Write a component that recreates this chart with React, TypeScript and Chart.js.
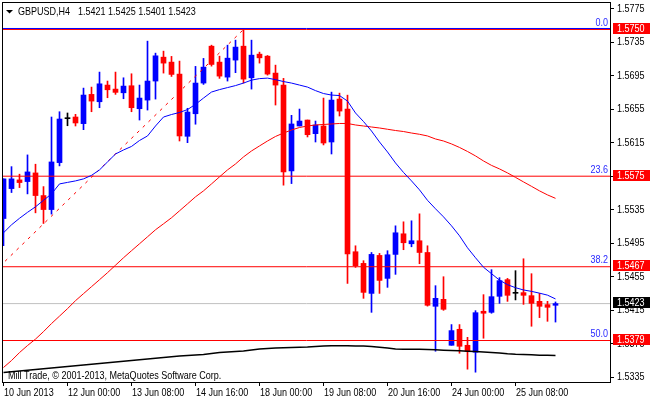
import React, { useEffect, useRef } from "react";
import { Chart, registerables } from "chart.js";

Chart.register(...registerables);

// ---------- data ----------
const opens = [1.55245,1.55602,1.55706,1.55686,1.55789,1.55519,1.55352,1.55912,1.56436,1.56456,
1.56377,1.56726,1.56638,1.56837,1.56789,1.56745,1.56829,1.56555,1.56658,1.56885,
1.5717,1.57111,1.56968,1.56226,1.56495,1.56861,1.57301,1.57111,1.56932,1.57135,
1.57301,1.56924,1.57206,1.57182,1.5698,1.56837,1.55813,1.56349,1.5642,1.56257,
1.56349,1.56158,1.5667,1.56551,1.54849,1.5471,1.54352,1.54805,1.54531,1.54817,
1.55063,1.54944,1.5498,1.5484,1.54198,1.54281,1.53733,1.53924,1.53733,1.5365,
1.54139,1.54126,1.54317,1.54516,1.54353,1.54361,1.54325,1.54257,1.54218,1.5421];

const highs = [1.55718,1.55864,1.55774,1.56004,1.55893,1.55626,1.56456,1.56519,1.56504,1.56488,
1.56801,1.56813,1.56992,1.56885,1.56992,1.56924,1.56972,1.56837,1.57361,1.57218,
1.57242,1.57179,1.57123,1.5656,1.5706,1.57155,1.57313,1.57182,1.57313,1.57373,
1.575,1.57373,1.5723,1.5719,1.57075,1.56917,1.56476,1.56551,1.5642,1.56408,
1.56682,1.56753,1.56741,1.56717,1.5492,1.54742,1.5484,1.54829,1.54861,1.55158,
1.55206,1.55218,1.55301,1.5492,1.54444,1.54551,1.5398,1.5398,1.53828,1.54146,
1.54337,1.54635,1.5454,1.54531,1.54623,1.54765,1.54587,1.54352,1.54257,1.5425];

const lows = [1.5492,1.55555,1.55614,1.55539,1.55313,1.55186,1.55298,1.55873,1.56352,1.56349,
1.56305,1.56519,1.56567,1.56686,1.56726,1.56674,1.56519,1.5642,1.56539,1.5667,
1.5698,1.5694,1.5617,1.5615,1.5637,1.56845,1.57063,1.56917,1.56885,1.56985,
1.56861,1.56789,1.57099,1.56956,1.56599,1.55643,1.55662,1.56349,1.56218,1.56158,
1.56123,1.56015,1.56468,1.54471,1.54662,1.54293,1.54126,1.54352,1.54424,1.54579,
1.54873,1.54908,1.54706,1.542,1.53662,1.5415,1.53733,1.53638,1.53448,1.53412,
1.53817,1.54115,1.54233,1.54257,1.54274,1.54221,1.5396,1.54063,1.54019,1.5401];

const closes = [1.55718,1.55718,1.55674,1.55801,1.55519,1.55352,1.5592,1.56432,1.56436,1.56385,
1.56718,1.56646,1.56852,1.56781,1.5675,1.56825,1.56567,1.56682,1.56885,1.57186,
1.57099,1.56964,1.5623,1.56515,1.56861,1.57051,1.57083,1.56944,1.57158,1.5729,
1.56908,1.57194,1.57162,1.56968,1.56837,1.55801,1.56373,1.56408,1.56245,1.56361,
1.56146,1.56658,1.56527,1.54824,1.54683,1.54364,1.54817,1.54507,1.54813,1.55075,
1.54956,1.5498,1.5484,1.5421,1.54293,1.54162,1.53908,1.53721,1.53662,1.54122,
1.54115,1.54313,1.54504,1.54329,1.54353,1.54329,1.54233,1.54198,1.54186,1.5423];

const maFast = [1.55075,1.5517,1.55248,1.55319,1.55385,1.55462,1.55539,1.55658,1.55676,1.55694,
1.55718,1.5576,1.55825,1.5592,1.56015,1.56063,1.56105,1.56176,1.5623,1.56349,
1.56456,1.56486,1.5651,1.56545,1.56607,1.56682,1.56754,1.56783,1.56807,1.56831,
1.56861,1.56896,1.56914,1.5692,1.56902,1.56879,1.56861,1.56837,1.56813,1.56771,
1.56736,1.56718,1.56712,1.56646,1.56504,1.56402,1.56289,1.56158,1.56039,1.55908,
1.55795,1.55694,1.55587,1.55462,1.55361,1.55265,1.55158,1.55039,1.54896,1.54777,
1.54664,1.54587,1.5451,1.54456,1.5442,1.54393,1.54376,1.54355,1.54331,1.54286];

const maMid = [1.53468,1.53551,1.53646,1.5373,1.53807,1.53896,1.53992,1.54081,1.5417,1.54265,
1.54349,1.54432,1.54515,1.54599,1.54688,1.54777,1.54861,1.54944,1.55027,1.55111,
1.55182,1.55254,1.55337,1.5542,1.55504,1.55575,1.55658,1.55742,1.55825,1.55896,
1.5598,1.56051,1.56111,1.5617,1.56224,1.56265,1.56301,1.56331,1.56349,1.56361,
1.56367,1.56373,1.56379,1.56379,1.56361,1.56349,1.56337,1.56325,1.5631,1.56295,
1.56283,1.56265,1.5625,1.5623,1.56194,1.5617,1.56135,1.56093,1.56045,1.55992,
1.55932,1.55879,1.55837,1.55789,1.55736,1.55682,1.55629,1.55575,1.55527,1.55486];

const maSlow = [1.53408,1.53418,1.53426,1.53435,1.53444,1.53452,1.53462,1.5347,1.5348,1.53488,
1.53498,1.53506,1.53515,1.53524,1.53533,1.53542,1.53551,1.5356,1.53569,1.53577,
1.53587,1.53595,1.53605,1.53611,1.53617,1.53623,1.53635,1.53646,1.53652,1.53658,
1.53664,1.53676,1.53688,1.53694,1.537,1.53704,1.53706,1.5371,1.53712,1.53718,
1.53724,1.53726,1.53726,1.53726,1.53724,1.53724,1.53718,1.5371,1.537,1.5369,
1.53686,1.53686,1.53686,1.53682,1.53679,1.53674,1.5367,1.53667,1.53662,1.53658,
1.53652,1.53646,1.5364,1.53631,1.53625,1.53623,1.53619,1.53615,1.53613,1.53611];

const xTickBars = [0, 8, 16, 24, 32, 40, 48, 56, 64];
const xTickLabels = ["10 Jun 2013", "12 Jun 00:00", "13 Jun 08:00", "14 Jun 16:00", "18 Jun 00:00",
  "19 Jun 08:00", "20 Jun 16:00", "24 Jun 00:00", "25 Jun 08:00"];
const yTickValues = [1.5335, 1.5375, 1.5415, 1.5455, 1.5495, 1.5535, 1.5575, 1.5615, 1.5655, 1.5695, 1.5735, 1.5775];

const fibRatios = ["0.0", "23.6", "38.2", "50.0"];
const fibPrices = [1.575, 1.5575, 1.5467, 1.5379];
const fibTrendBars = [-50, 30];
const fibTrendPrices = [1.5008, 1.575];
const highMarkPrice = 1.57512;
const bidPrice = 1.5423;

const headerSymbol = "GBPUSD,H4";
const headerOHLC = "1.5421 1.5425 1.5401 1.5423";
const footerText = "Mill Trade, \u00a9 2001-2013, MetaQuotes Software Corp.";

// ---------- style ----------
const FONT = '11px "Liberation Sans", Arial, sans-serif';
const SX = 0.82; // horizontal squeeze to mimic the narrow terminal font
const BLUE = "#0000ff";
const RED = "#ff0000";

const X_MIN = -0.0625;
const X_MAX = 75.8125;
const Y_MIN = 1.53295;
const Y_MAX = 1.578161;

function txt(ctx: CanvasRenderingContext2D, s: string, x: number, y: number, align: CanvasTextAlign, color: string) {
  ctx.save();
  ctx.translate(x, y);
  ctx.scale(SX, 1);
  ctx.font = FONT;
  ctx.textAlign = align;
  ctx.textBaseline = "alphabetic";
  ctx.fillStyle = color;
  ctx.fillText(s, 0, 0);
  ctx.restore();
}

export default function App() {
  const ref = useRef<HTMLCanvasElement | null>(null);

  useEffect(() => {
    if (!ref.current) return;
    const idx = opens.map((_, i) => i);
    const candleColor = idx.map((i) =>
      closes[i] > opens[i] ? BLUE : closes[i] < opens[i] ? RED : "#000000"
    );
    const hLine = (p: number) => [{ x: X_MIN - 2, y: p }, { x: X_MAX + 2, y: p }];
    const zeroPad = (axis: any) => {
      axis.paddingTop = 0;
      axis.paddingBottom = 0;
      axis.paddingLeft = 0;
      axis.paddingRight = 0;
    };

    const overlay = {
      id: "mt4overlay",
      afterDraw(chart: any) {
        const ctx: CanvasRenderingContext2D = chart.ctx;
        const ys = chart.scales.y;
        const xs = chart.scales.x;
        ctx.save();
        // frame
        ctx.strokeStyle = "#000";
        ctx.lineWidth = 1;
        ctx.strokeRect(2.5, 2.5, 608, 380);
        // axis labels
        ys.ticks.forEach((t: any) => {
          const py = Math.round(ys.getPixelForValue(t.value));
          txt(ctx, Number(t.value).toFixed(4), 617, py + 3, "left", "#000");
        });
        xs.ticks.forEach((t: any) => {
          const k = xTickBars.indexOf(Number(t.value));
          if (k < 0) return;
          const px = Math.floor(xs.getPixelForValue(t.value));
          txt(ctx, xTickLabels[k], px + 1, 396, "left", "#000");
        });
        // header
        ctx.fillStyle = "#000";
        ctx.beginPath();
        ctx.moveTo(6, 10);
        ctx.lineTo(13, 10);
        ctx.lineTo(9.5, 13.5);
        ctx.closePath();
        ctx.fill();
        txt(ctx, headerSymbol, 18, 15, "left", "#000");
        txt(ctx, headerOHLC, 78, 15, "left", "#000");
        // footer
        txt(ctx, footerText, 8, 379, "left", "#000");
        // fib labels
        fibPrices.forEach((p, i) => {
          const py = Math.floor(ys.getPixelForValue(p));
          txt(ctx, fibRatios[i], 608, py - 3, "right", "#2a2aff");
        });
        // price tags
        const tags = fibPrices.map((p) => ({ p, bg: RED })).concat([{ p: bidPrice, bg: "#000000" }]);
        tags.forEach((t) => {
          const py = Math.floor(ys.getPixelForValue(t.p));
          ctx.fillStyle = t.bg;
          ctx.fillRect(613, py - 6, 37, 11);
          txt(ctx, t.p.toFixed(4), 617, py + 3, "left", "#fff");
        });
        ctx.restore();
      },
    };

    const chart = new Chart(ref.current, {
      type: "bar",
      data: {
        datasets: [
          {
            type: "bar",
            data: idx.map((i) => ({ x: i, y: [lows[i], highs[i]] })) as any,
            backgroundColor: candleColor,
            barThickness: 1,
            grouped: false,
            borderWidth: 0,
            order: 6,
          },
          {
            type: "bar",
            data: idx.map((i) => ({ x: i, y: [opens[i], closes[i]] })) as any,
            backgroundColor: candleColor,
            barThickness: 5,
            minBarLength: 1,
            grouped: false,
            borderWidth: 0,
            order: 5,
          },
          {
            type: "line",
            data: hLine(bidPrice),
            borderColor: "#c0c0c0",
            borderWidth: 1,
            pointRadius: 0,
            order: 7,
          },
          ...fibPrices.map((p) => ({
            type: "line" as const,
            data: hLine(p),
            borderColor: RED,
            borderWidth: 1,
            pointRadius: 0,
            order: 4,
          })),
          {
            type: "line",
            data: hLine(highMarkPrice),
            borderColor: BLUE,
            borderWidth: 1,
            pointRadius: 0,
            order: 4,
          },
          {
            type: "line",
            data: fibTrendBars.map((b, i) => ({ x: b, y: fibTrendPrices[i] })),
            borderColor: RED,
            borderWidth: 1,
            borderDash: [3, 5],
            pointRadius: 0,
            order: 3,
          },
          {
            type: "line",
            data: idx.map((i) => ({ x: i, y: maSlow[i] })),
            borderColor: "#000000",
            borderWidth: 1.5,
            pointRadius: 0,
            tension: 0,
            order: 2,
          },
          {
            type: "line",
            data: idx.map((i) => ({ x: i, y: maMid[i] })),
            borderColor: RED,
            borderWidth: 1,
            pointRadius: 0,
            tension: 0,
            order: 1,
          },
          {
            type: "line",
            data: idx.map((i) => ({ x: i, y: maFast[i] })),
            borderColor: BLUE,
            borderWidth: 1,
            pointRadius: 0,
            tension: 0,
            order: 0,
          },
        ] as any,
      },
      options: {
        animation: false,
        responsive: true,
        maintainAspectRatio: false,
        events: [],
        layout: { padding: { left: 3, top: 3, right: 0, bottom: 0 } },
        plugins: { legend: { display: false }, tooltip: { enabled: false } },
        scales: {
          x: {
            type: "linear",
            min: X_MIN,
            max: X_MAX,
            offset: false,
            bounds: "data",
            grid: { display: true, offset: false, drawOnChartArea: false, drawTicks: true, tickLength: 4, color: "#000" },
            border: { display: false },
            afterBuildTicks: (axis: any) => {
              axis.ticks = xTickBars.map((v) => ({ value: v }));
            },
            afterFit: (axis: any) => {
              axis.height = 18;
              zeroPad(axis);
            },
            ticks: { display: false, autoSkip: false, maxRotation: 0, minRotation: 0 },
          },
          y: {
            type: "linear",
            position: "right",
            min: Y_MIN,
            max: Y_MAX,
            bounds: "data",
            beginAtZero: false,
            grid: { display: true, drawOnChartArea: false, drawTicks: true, tickLength: 4, color: "#000" },
            border: { display: false },
            afterBuildTicks: (axis: any) => {
              axis.ticks = yTickValues.map((v) => ({ value: v }));
            },
            afterFit: (axis: any) => {
              axis.width = 40;
              zeroPad(axis);
            },
            ticks: { display: false },
          },
        },
      } as any,
      plugins: [overlay],
    });
    return () => chart.destroy();
  }, []);

  return (
    <div style={{ position: "fixed", left: 0, top: 0, width: 650, height: 400, background: "#fff" }}>
      <canvas ref={ref} />
    </div>
  );
}
